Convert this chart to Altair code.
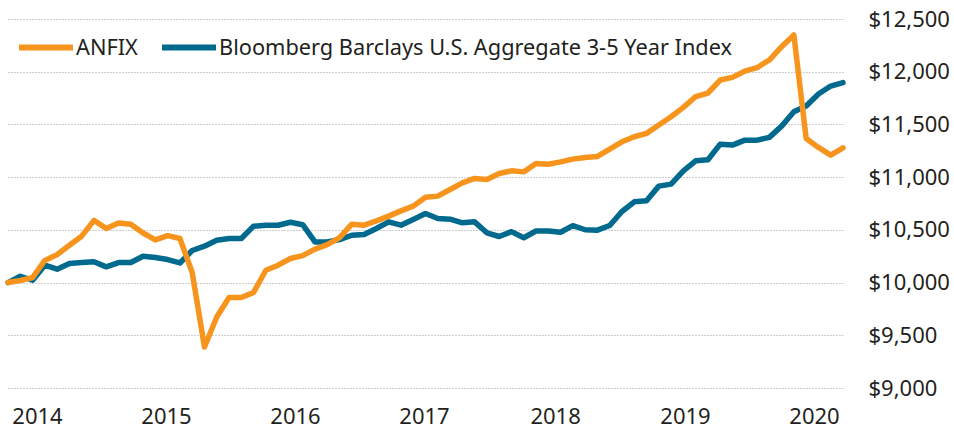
import altair as alt
import pandas as pd

series_names = ["ANFIX", "Bloomberg Barclays U.S. Aggregate 3-5 Year Index"]
series_colors = ["#F7941D", "#006A8E"]

anfix = [10000, 10020, 10047, 10210, 10265, 10354, 10440, 10590, 10513, 10565,
         10554, 10470, 10405, 10445, 10418, 10095, 9389, 9674, 9858, 9858,
         9907, 10117, 10165, 10228, 10255, 10318, 10360, 10427, 10554, 10544,
         10585, 10630, 10680, 10725, 10810, 10820, 10883, 10946, 10988, 10978,
         11035, 11060, 11050, 11130, 11123, 11145, 11171, 11187, 11196, 11266,
         11335, 11383, 11415, 11494, 11573, 11662, 11763, 11798, 11921, 11946,
         12006, 12038, 12111, 12237, 12348, 11367, 11282, 11209, 11278]

bbg = [10000, 10060, 10022, 10165, 10127, 10181, 10190, 10197, 10149, 10190,
       10190, 10250, 10237, 10218, 10186, 10304, 10345, 10402, 10418, 10418,
       10535, 10544, 10544, 10572, 10549, 10386, 10386, 10408, 10449, 10456,
       10513, 10576, 10544, 10598, 10655, 10608, 10601, 10567, 10576, 10472,
       10437, 10483, 10425, 10489, 10489, 10477, 10540, 10501, 10497, 10541,
       10674, 10766, 10777, 10915, 10934, 11060, 11155, 11165, 11313, 11304,
       11351, 11351, 11377, 11484, 11620, 11674, 11788, 11864, 11896]

year_labels = ["2014", "2015", "2016", "2017", "2018", "2019", "2020"]
year_tick_pos = [2.36, 12.87, 23.37, 33.88, 44.55, 55.13, 65.64]
y_ticks = [9000, 9500, 10000, 10500, 11000, 11500, 12000, 12500]

rows = []
for i, v in enumerate(anfix):
    rows.append({"idx": i, "value": v, "series": series_names[0]})
for i, v in enumerate(bbg):
    rows.append({"idx": i, "value": v, "series": series_names[1]})
df = pd.DataFrame(rows)

label_expr = ("[" + ",".join("'%s'" % l for l in year_labels) + "][indexof(["
              + ",".join(str(p) for p in year_tick_pos) + "], datum.value)]")

FONT = "Noto Sans"
TXT = "#231F20"

x_enc = alt.X("idx:Q",
              scale=alt.Scale(domain=[0, len(anfix) - 1], nice=False, zero=False),
              axis=alt.Axis(title=None, values=year_tick_pos, labelExpr=label_expr,
                            grid=False, ticks=False, tickSize=0, domain=False,
                            labelFont=FONT, labelFontSize=22, labelColor=TXT,
                            labelPadding=18, labelFlush=False, labelOverlap=False))
y_enc = alt.Y("value:Q",
              scale=alt.Scale(domain=[9000, 12500], nice=False, zero=False),
              axis=alt.Axis(title=None, orient="right", values=y_ticks, format="$,.0f",
                            grid=True, gridDash=[1, 2], gridColor="#9a9a9a", gridWidth=1,
                            ticks=False, tickSize=0, domain=False,
                            labelFont=FONT, labelFontSize=22, labelColor=TXT,
                            labelPadding=25, labelAlign="left"))
color_enc = alt.Color("series:N",
                      scale=alt.Scale(domain=series_names, range=series_colors),
                      legend=alt.Legend(title=None, orient="none", legendX=8, legendY=-1.5,
                                        direction="horizontal", symbolType="stroke",
                                        symbolSize=2916, symbolStrokeWidth=6,
                                        labelFont=FONT, labelFontSize=21.75,
                                        labelColor=TXT, labelOffset=0,
                                        columnPadding=12, labelLimit=700, padding=0))

base = alt.Chart(df).mark_line(strokeWidth=5.5, strokeCap="round", strokeJoin="round")

teal = base.transform_filter(alt.datum.series == series_names[1]).encode(
    x=x_enc, y=y_enc, color=color_enc)
orange = base.transform_filter(alt.datum.series == series_names[0]).encode(
    x=x_enc, y=y_enc, color=color_enc)

chart = alt.layer(teal, orange).properties(
    width=835, height=369,
    autosize=alt.AutoSizeParams(type="none"),
    padding={"left": 8, "top": 19, "right": 111, "bottom": 40},
    background="white",
).configure_view(strokeWidth=0)

chart.save("out.html", embed_options={"renderer": "svg", "actions": False})
